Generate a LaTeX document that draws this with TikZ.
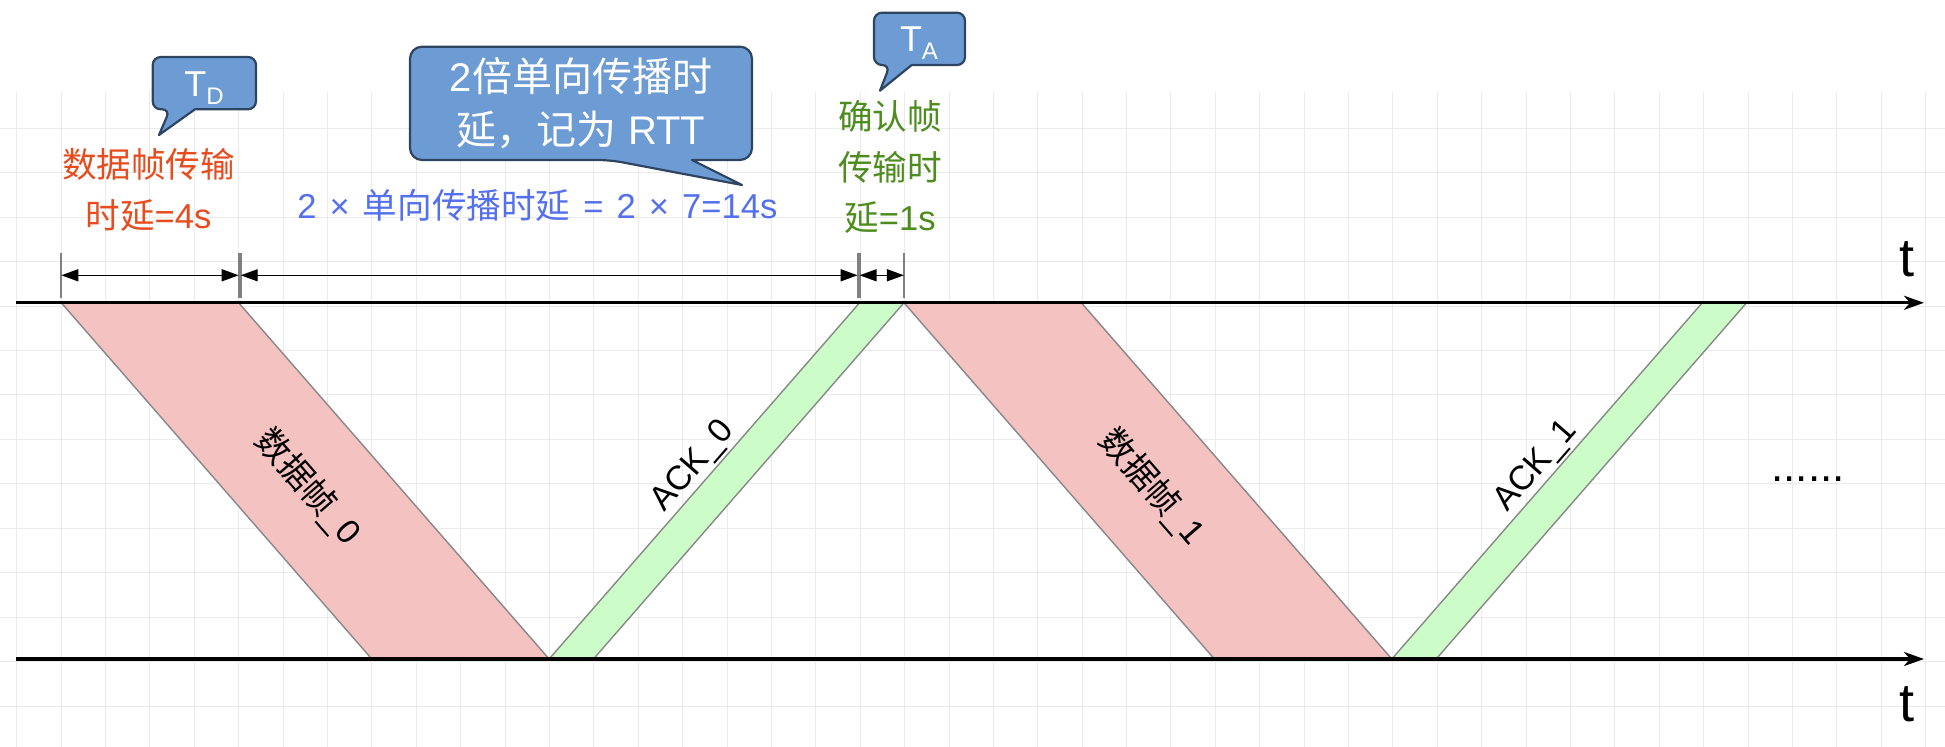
\documentclass[tikz,border=0pt]{standalone}
\usepackage{fontspec}
\setmainfont{Liberation Sans}
\newfontfamily\cjk{Noto Sans CJK SC}
\usetikzlibrary{arrows.meta}
\definecolor{gridc}{HTML}{EBEBEB}
\definecolor{redfill}{HTML}{F4C3C1}
\definecolor{greenfill}{HTML}{CCFCC7}
\definecolor{bandline}{HTML}{888888}
\definecolor{bubblefill}{HTML}{6D9BD3}
\definecolor{bubbleline}{HTML}{2E4562}
\definecolor{redtxt}{HTML}{E64C1E}
\definecolor{bluetxt}{HTML}{5470EE}
\definecolor{greentxt}{HTML}{4D8C1E}
\definecolor{tickc}{HTML}{808080}
\newcommand{\wsp}{\hspace{6.5pt}}
\begin{document}
\begin{tikzpicture}[x=0.5pt,y=-0.5pt,
  gridline/.style={draw=gridc,line width=0.5pt},
  band/.style={draw=bandline,line width=0.7pt,line join=round},
  axisline/.style={line width=1.6pt,-{Stealth[length=10pt,width=7pt,inset=3pt]}},
  dimline/.style={line width=0.7pt,{Triangle[length=8.5pt,width=6pt]}-{Triangle[length=8.5pt,width=6pt]}},
  dimtick/.style={draw=tickc,line width=0.9pt},
  bubble/.style={fill=bubblefill,draw=bubbleline,line width=1.1pt,line join=round},
  bandlbl/.style={inner sep=1pt,font=\fontsize{17}{17}\selectfont},
  note/.style={inner sep=0pt,align=center,font=\fontsize{17.3}{25.25}\selectfont},
  axlbl/.style={anchor=base,inner sep=0pt,font=\fontsize{27}{27}\selectfont},
]
\useasboundingbox (0,0) rectangle (1945,747);
\fill[white] (0,0) rectangle (1945,747);
% grid
\foreach \k in {-1,...,42} \draw[gridline] ({61.1+44.395*\k},92) -- ({61.1+44.395*\k},747);
\foreach \k in {0,...,13} \draw[gridline] (0,{128.3+44.45*\k}) -- (1945,{128.3+44.45*\k});
% bands
\draw[band,fill=redfill] (61.3,302.8) -- (238.7,302.8) -- (549.15,659) -- (371.75,659) -- cycle;
\draw[band,fill=greenfill] (549.15,659) -- (593.5,659) -- (903.95,302.8) -- (859.6,302.8) -- cycle;
\draw[band,fill=redfill] (903.95,302.8) -- (1081.35,302.8) -- (1391.8,659) -- (1214.4,659) -- cycle;
\draw[band,fill=greenfill] (1391.8,659) -- (1436.15,659) -- (1746.6,302.8) -- (1702.25,302.8) -- cycle;
% axes
\coordinate (a1s) at (15.7,302.8); \coordinate (a1e) at (1924,302.8);
\coordinate (a2s) at (15.7,659); \coordinate (a2e) at (1924,659);
\draw[axisline] (a1s) -- (a1e);
\draw[axisline] (a2s) -- (a2e);
\node[axlbl] (t1) at (1907,277) {t};
\node[axlbl] (t2) at (1907,722) {t};
% band labels
\node[bandlbl,rotate=-48.93] (d0) at (308,487) {{\cjk 数据帧}\_0};
\node[bandlbl,rotate=-48.93] (d1) at (1152,487) {{\cjk 数据帧}\_1};
\node[bandlbl,rotate=48.93,anchor=south] (k0) at (706.9,478.1) {ACK\_0};
\node[bandlbl,rotate=48.93,anchor=south] (k1) at (1549.55,478.1) {ACK\_1};
\node[anchor=base,inner sep=0pt,font=\fontsize{22}{22}\selectfont] (dots) at (1808,482) {......};
% dimension ticks
\foreach \x in {61.3,238.7,240.7,857.6,859.6,903.95} \draw[dimtick] (\x,253) -- (\x,298);
\coordinate (m1a) at (61.3,275.3); \coordinate (m1b) at (238.7,275.3);
\coordinate (m2a) at (240.7,275.3); \coordinate (m2b) at (857.6,275.3);
\coordinate (m3a) at (859.6,275.3); \coordinate (m3b) at (903.95,275.3);
\draw[dimline] (m1a) -- (m1b);
\draw[dimline] (m2a) -- (m2b);
\draw[dimline] (m3a) -- (m3b);
% annotation texts
\node[note,text=redtxt] (tdtxt) at (148.5,190) {{\cjk 数据帧传输}\\{\cjk 时延}=4s};
\node[note,text=bluetxt,anchor=base west] (proptxt) at (297,218.3) {2\wsp×\wsp{\cjk 单向传播时延}\wsp=\wsp2\wsp×\wsp7=14s};
\node[note,text=greentxt] (tatxt) at (890,167) {{\cjk 确认帧}\\{\cjk 传输时}\\{\cjk 延}=1s};
% bubbles
\draw[bubble] (204,57) [rounded corners=4pt] -- (152.7,57) -- (152.7,109.3) -- (170,109.3) [sharp corners] -- (159,135) -- (195,109.3) [rounded corners=4pt] -- (256,109.3) -- (256,57) -- cycle;
\node[anchor=base,inner sep=0pt,text=white] (tdl) at (204,96.7) {\fontsize{18}{18}\selectfont T\raisebox{-4pt}{\fontsize{12}{12}\selectfont D}};
\draw[bubble] (919,12.7) [rounded corners=4pt] -- (874,12.7) -- (874,65) -- (890,65) [sharp corners] -- (880,90.7) -- (911.7,65) [rounded corners=4pt] -- (965,65) -- (965,12.7) -- cycle;
\node[anchor=base,inner sep=0pt,text=white] (tal) at (919,52) {\fontsize{18}{18}\selectfont T\raisebox{-4pt}{\fontsize{12}{12}\selectfont A}};
\draw[bubble] (581,46.7) [rounded corners=6pt] -- (410,46.7) -- (410,160) -- (610,160) [sharp corners] -- (742,185) -- (692,160) [rounded corners=6pt] -- (752,160) -- (752,46.7) -- cycle;
\node[inner sep=0pt,align=center,text=white,font=\fontsize{20}{26.5}\selectfont] (rttl) at (581,103) {2{\cjk 倍单向传播时}\\{\cjk 延，记为} RTT};
\end{tikzpicture}
\end{document}
